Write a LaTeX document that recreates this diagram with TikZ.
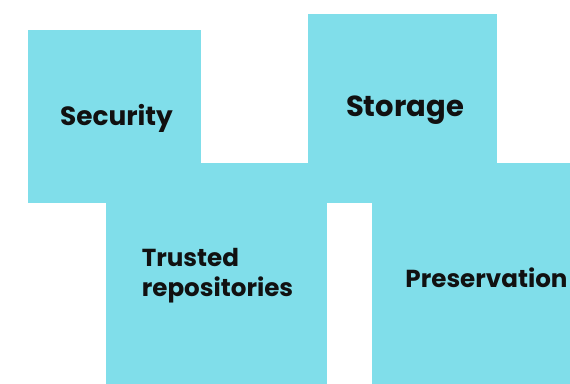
\documentclass[tikz,border=0pt]{standalone}
\usepackage{fontspec}
\setmainfont{Poppins}
\definecolor{tile}{HTML}{80DEEA}
\definecolor{ink}{HTML}{111111}
\begin{document}
\begin{tikzpicture}[x=1pt,y=-1pt,
  tilebox/.style={fill=tile,draw=none,inner sep=0pt,outer sep=0pt,anchor=north west},
  lab/.style={text=ink,font=\bfseries,inner sep=0pt,align=left}]
\useasboundingbox (0,0) rectangle (570,383);
\clip (0,0) rectangle (570,383);
\node[tilebox,minimum width=173pt,minimum height=173pt] (sec) at (28,30) {};
\node[tilebox,minimum width=189pt,minimum height=189pt] (sto) at (308,14) {};
\node[tilebox,minimum width=221pt,minimum height=221pt] (tru) at (106,163) {};
\node[tilebox,minimum width=221pt,minimum height=221pt] (pre) at (372,163) {};
\node[lab,font=\bfseries\fontsize{26.4}{30}\selectfont] (tsec) at (116.5,118) {Security};
\node[lab,font=\bfseries\fontsize{29}{32}\selectfont] (tsto) at (405,110) {Storage};
\node[lab,font=\bfseries\fontsize{24.6}{30}\selectfont] (ttru) at (217.5,276) {Trusted\\repositories};
\node[lab,font=\bfseries\fontsize{24.6}{28}\selectfont] (tpre) at (486.5,277.5) {Preservation};
\end{tikzpicture}
\end{document}
